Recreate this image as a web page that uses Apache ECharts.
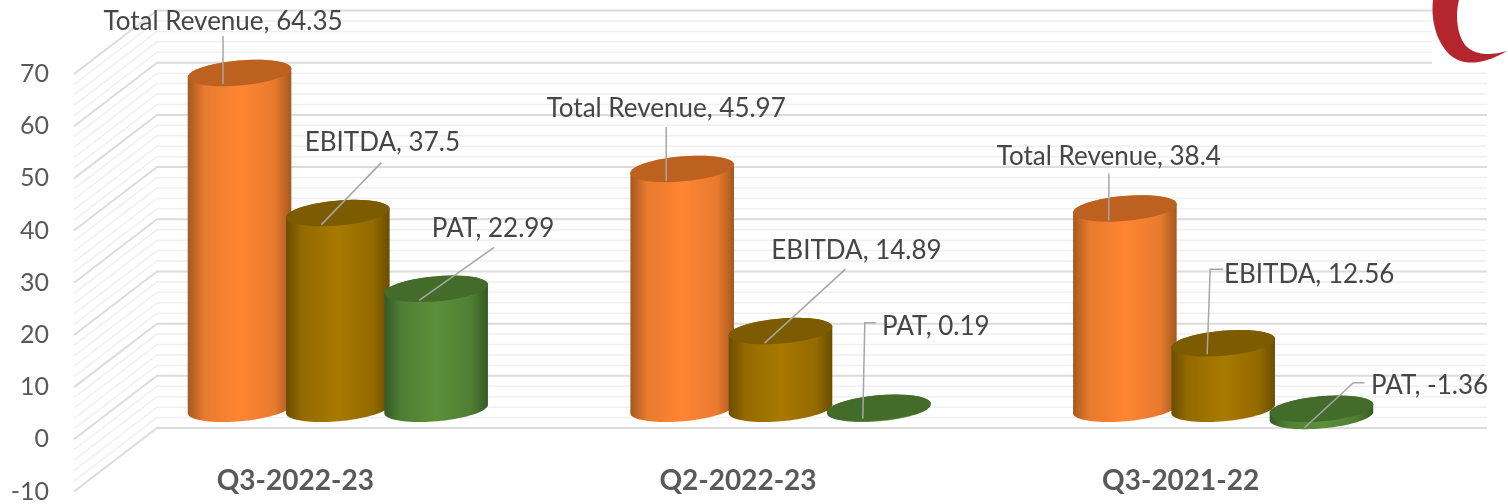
<!DOCTYPE html>
<html><head><meta charset="utf-8">
<style>html,body{margin:0;padding:0;background:#fff}#c{width:1508px;height:504px}</style>
<script src="https://cdn.jsdelivr.net/npm/echarts@6/dist/echarts.min.js"></script>
</head><body><div id="c"></div>
<script>
const categories = ['Q3-2022-23', 'Q2-2022-23', 'Q3-2021-22'];
const seriesNames = ['Total Revenue', 'EBITDA', 'PAT'];
const totalRevenue = [64.35, 45.97, 38.4];
const ebitda = [37.5, 14.89, 12.56];
const pat = [22.99, 0.19, -1.36];
const yTicks = [-10, 0, 10, 20, 30, 40, 50, 60, 70];

// Layout only (offsets relative to the top of each cylinder)
const labelLayout = {
  'Total Revenue': [
    {t:[-16.5,-53], l:[[-16.5,-37],[-16.5,11]]},
    {t:[-16,-62],   l:[[-16,-42],[-16,12]]},
    {t:[-16,-53],   l:[[-16,-35],[-16,12]]}],
  'EBITDA': [
    {t:[44.5,-72.5], l:[[43.5,-50.5],[-16.5,11.5]]},
    {t:[76,-82],     l:[[65,-62],[-16,12]]},
    {t:[86,-70],     l:[[0,-74],[-13,-74],[-16,11]]}],
  'PAT': [
    {t:[57,-61.5], l:[[58,-41.5],[-17,11.5]]},
    {t:[57,-83],   l:[[-3,-85],[-14,-85],[-16,11]]},
    {t:[108,-25],  l:[[43,-26],[32,-26],[-17,19]]}]
};
const palette = {
  'Total Revenue': {edge:'#a5591f', mid:'#e87a2e', lit:'#ff8533', cap:'#bd6120'},
  'EBITDA':        {edge:'#6b4e00', mid:'#946a00', lit:'#a87a00', cap:'#7d5b00'},
  'PAT':           {edge:'#355a27', mid:'#4f7e33', lit:'#5c8f3a', cap:'#436b2a'}
};
const FONT = 'Lato, "Open Sans", sans-serif';
const TEXT = '#454545', AXIS_TEXT = '#595959';
const DEPTH_X = 83, DEPTH_Y = 63.5, WALL_EXT = 2, TEXT_DY = 1.5;
const BAR_DX = 42.5, BAR_STEP = 98.3, BAR_DY = 30.5, RX = 52, RY = 12.5, TILT = -5 * Math.PI / 180;

function ell(cx, cy, t) {
  return [cx + RX*Math.cos(t)*Math.cos(TILT) - RY*Math.sin(t)*Math.sin(TILT),
          cy + RX*Math.cos(t)*Math.sin(TILT) + RY*Math.sin(t)*Math.cos(TILT)];
}
function arc(cx, cy, from, to) {
  const pts = [], n = 40;
  for (let i = 0; i <= n; i++) pts.push(ell(cx, cy, from + (to-from)*i/n));
  return pts;
}
function bez(p0, p1, p2, p3) {
  const pts = [];
  for (let i = 0; i <= 16; i++) {
    const t = i/16, u = 1-t;
    pts.push([0,1].map(k => u*u*u*p0[k] + 3*u*u*t*p1[k] + 3*u*t*t*p2[k] + t*t*t*p3[k]));
  }
  return pts;
}
const logoShape = [].concat(
  bez([1433,0],[1430,25],[1440,52],[1458,60]),
  bez([1458,60],[1472,66],[1490,61],[1507,51]),
  bez([1507,51],[1490,56],[1475,55],[1466,46]),
  bez([1466,46],[1457,36],[1455,15],[1459,0]));
function barCenter(api, cat, seriesIdx, value) {
  const x = api.coord([cat, 0])[0] + BAR_DX + (seriesIdx-1)*BAR_STEP;
  return [x, api.coord([cat, value])[1] - BAR_DY];
}
function renderWall(params, api) {
  const v = api.value(1), cs = params.coordSys, major = v % 10 === 0;
  const y = api.coord([0, v])[1];
  const style = {stroke: major ? '#dcdcdc' : '#f0f0f0', lineWidth: major ? 2 : 1.5, fill: null};
  return {type:'polyline', silent:true,
    shape:{points:[[cs.x, y],[cs.x+DEPTH_X, y-DEPTH_Y],[cs.x+cs.width+DEPTH_X+WALL_EXT, y-DEPTH_Y]]}, style};
}
function makeBarRender(seriesIdx, name) {
  const c = palette[name];
  return function (params, api) {
    const cat = api.value(0), v = api.value(1);
    const top = barCenter(api, cat, seriesIdx, Math.max(v, 0));
    const bot = barCenter(api, cat, seriesIdx, Math.min(v, 0));
    const body = arc(bot[0], bot[1], 0, Math.PI).concat(arc(top[0], top[1], Math.PI, 2*Math.PI));
    const grad = {type:'linear', x:0, y:0, x2:1, y2:0, colorStops:[
      {offset:0, color:c.edge},{offset:.16, color:c.mid},{offset:.5, color:c.lit},
      {offset:.84, color:c.mid},{offset:1, color:c.edge}]};
    return {type:'group', children:[
      {type:'polygon', shape:{points:body}, style:{fill:grad}},
      {type:'polygon', shape:{points:arc(top[0], top[1], 0, 2*Math.PI)}, style:{fill:c.cap}}
    ]};
  };
}
function renderLabel(params, api) {
  const cat = api.value(0), v = api.value(1), sIdx = api.value(2);
  const name = seriesNames[sIdx], lay = labelLayout[name][cat];
  const c = barCenter(api, cat, sIdx, Math.max(v, 0));
  return {type:'group', children:[
    {type:'polyline', shape:{points:lay.l.map(p => [c[0]+p[0], c[1]+p[1]])},
     style:{stroke:'#a6a6a6', lineWidth:1.5, fill:null}},
    {type:'text', style:{text:name+', '+v, x:c[0]+lay.t[0], y:c[1]+lay.t[1]+TEXT_DY,
      fill:TEXT, font:'26px '+FONT, align:'center', verticalAlign:'middle'}}
  ]};
}
const seriesValues = [totalRevenue, ebitda, pat];
const wallData = [];
for (let v = yTicks[0]; v <= yTicks[yTicks.length-1]; v += 2) wallData.push([0, v]);
const labelData = [];
seriesValues.forEach((vals, s) => vals.forEach((v, i) => labelData.push([i, v, s])));

const chart = echarts.init(document.getElementById('c'));
chart.setOption({
  animation:false,
  backgroundColor:'#fff',
  grid:{left:74, width:1328, top:74, height:419},
  xAxis:{type:'category', data:categories, position:'bottom',
    axisLine:{show:false, onZero:false}, axisTick:{show:false},
    axisLabel:{inside:true, margin:-3, color:AXIS_TEXT, fontFamily:FONT, fontWeight:'bold', fontSize:28}},
  yAxis:{type:'value', min:-10, max:70, interval:10,
    axisLine:{show:false}, axisTick:{show:false}, splitLine:{show:false},
    axisLabel:{margin:25, padding:[3,0,0,0], color:AXIS_TEXT, fontFamily:FONT, fontSize:25}},
  graphic:[
    {type:'rect', z:50, shape:{x:1432,y:0,width:76,height:70}, style:{fill:'#fff'}},
    {type:'polygon', z:51, shape:{points:logoShape}, style:{fill:'#b5252e'}}
  ],
  series:[
    {type:'custom', name:'wall', z:1, data:wallData, encode:{x:0,y:1}, renderItem:renderWall, silent:true},
    ...seriesNames.map((n, s) => ({type:'custom', name:n, z:2+s,
      data:seriesValues[s].map((v,i)=>[i,v]), encode:{x:0,y:1}, renderItem:makeBarRender(s,n)})),
    {type:'custom', name:'labels', z:10, data:labelData, encode:{x:0,y:1}, renderItem:renderLabel}
  ]
});
</script></body></html>
